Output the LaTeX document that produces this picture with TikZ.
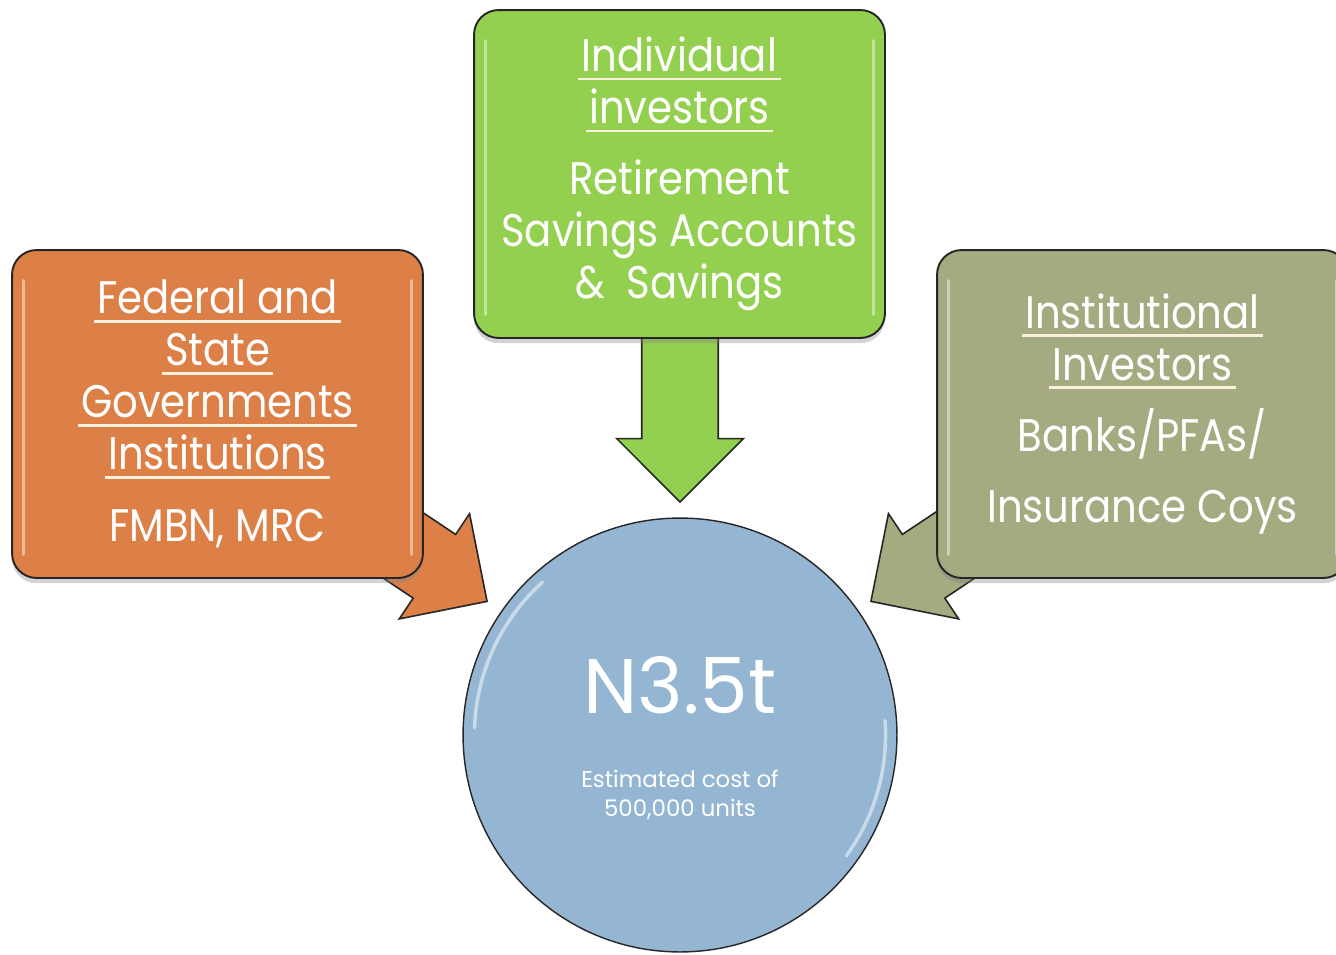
\documentclass[tikz,border=0pt]{standalone}
\usepackage{fontspec}
\setmainfont{Poppins}
\newfontfamily\narrowfont{Poppins}[FakeStretch=0.88]
\usetikzlibrary{positioning, calc, shapes.arrows, shadows}

\definecolor{govorange}{HTML}{DD8047}
\definecolor{indgreen}{HTML}{94D050}
\definecolor{instolive}{HTML}{A5AB81}
\definecolor{costblue}{HTML}{94B6D2}
\definecolor{ulcream}{HTML}{FBF0DC}

% underline at a fixed depth, a bit wider than the word
\newsavebox\ulinebox
\newcommand{\ulline}[1]{\sbox\ulinebox{#1}%
    \rlap{\hspace*{-2pt}\color{ulcream}\rule[-5pt]{\dimexpr\wd\ulinebox+4pt\relax}{1.6pt}}\usebox\ulinebox}

\begin{document}
\begin{tikzpicture}[x=0.02cm, y=-0.02cm,
    box/.style={draw=black!85, line width=1.1pt, rounded corners=14pt,
        minimum width=8.22cm, minimum height=6.56cm, align=center,
        text=white, font=\narrowfont\fontsize{26}{29.6}\selectfont,
        drop shadow={opacity=0.35, shadow xshift=0pt, shadow yshift=-3pt}},
    feed/.style={single arrow, draw=black!85, line width=0.9pt,
        inner xsep=0pt, inner ysep=0.75cm,
        minimum width=2.5cm, single arrow head extend=0.5cm, anchor=tip},
    gloss/.style={white, opacity=0.45, line width=2pt, line cap=round}]
    \useasboundingbox (0,0) rectangle (1336,954);

    % arrows first, the boxes hide their tails
    \node [feed, fill=indgreen, rotate=-90, minimum height=4.06cm] (indivarrow) at (680,503) {};
    \node [feed, fill=govorange, rotate=-33.7, minimum height=3.2cm] (fedarrow) at (488,602) {};
    \node [feed, fill=instolive, rotate=-146.3, minimum height=3.2cm] (instarrow) at (870,602) {};

    \node [box, fill=govorange] (fed) at (217.5,414)
        {\ulline{Federal and}\\\ulline{State}\\\ulline{Governments}\\\ulline{Institutions}\\[11pt]FMBN, MRC};
    \node [box, fill=indgreen] (indiv) at (679.5,174)
        {\ulline{Individual}\\\ulline{investors}\\[11pt]Retirement\\Savings Accounts\\\&~~Savings};
    \node [box, fill=instolive] (inst) at (1142.5,414)
        {\ulline{Institutional}\\\ulline{Investors}\\[11pt]Banks/PFAs/\\[11pt]Insurance Coys};

    % light strips inside the box edges
    \foreach \b in {fed, indiv, inst} {
        \draw [gloss] ([xshift=7pt, yshift=-18pt]\b.north west) -- ([xshift=7pt, yshift=14pt]\b.south west);
        \draw [gloss] ([xshift=-7pt, yshift=-18pt]\b.north east) -- ([xshift=-7pt, yshift=14pt]\b.south east);
    }

    \node [draw=black!85, line width=0.8pt, circle, fill=costblue, minimum size=8.68cm] (cost) at (680,735) {};
    \draw [gloss, opacity=0.5] (cost.center) ++(132:117pt) arc (132:178:117pt);
    \draw [gloss, opacity=0.5] (cost.center) ++(-36:117pt) arc (-36:4:117pt);
    \node [anchor=base, text=white, font=\fontsize{44}{44}\selectfont] (amount) at ($(cost)+(0,-22)$) {N3.5t};
    \node [anchor=base, text=white, align=center, font=\fontsize{13}{16}\selectfont] (units) at ($(cost)+(0,81)$)
        {Estimated cost of\\500,000 units};
\end{tikzpicture}
\end{document}
